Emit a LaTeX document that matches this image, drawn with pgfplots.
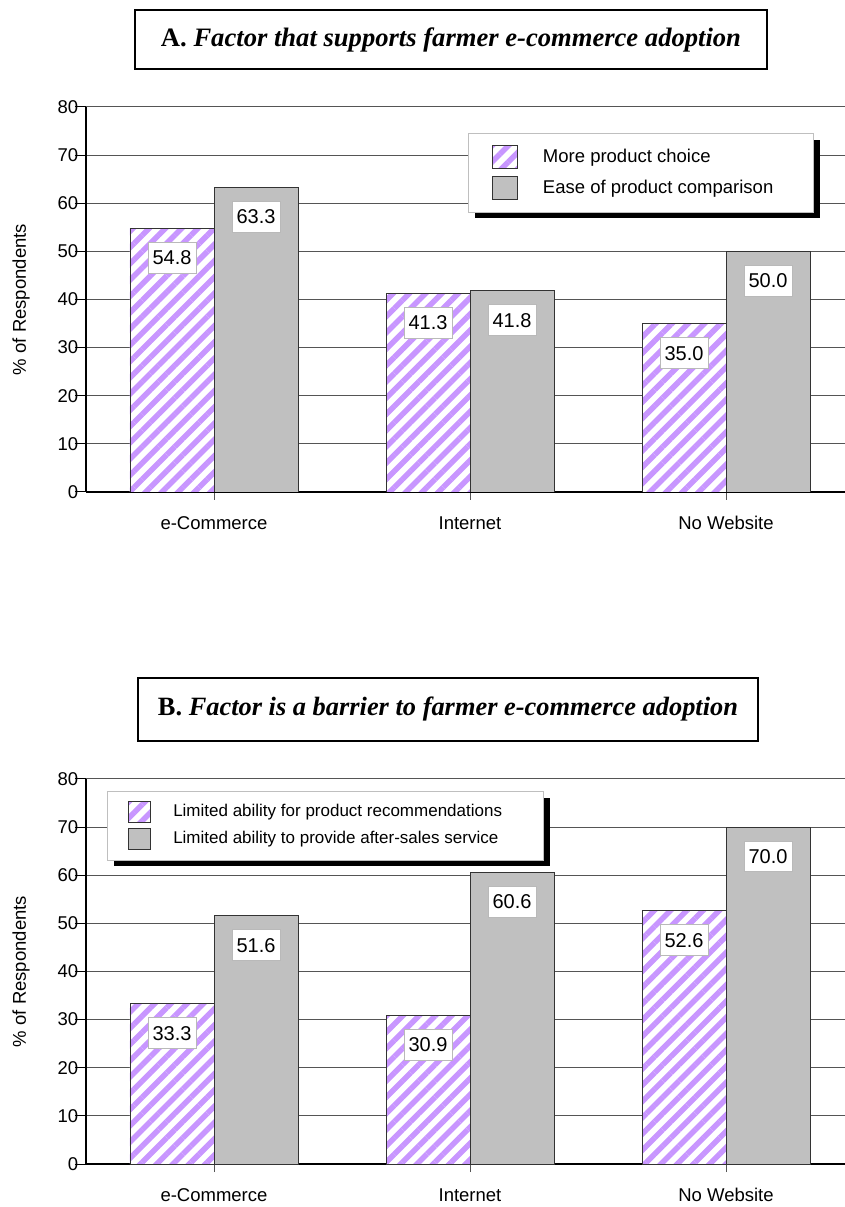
\documentclass[border=0pt]{standalone}
\usepackage{fontspec}
\setmainfont{Liberation Sans}
\newfontfamily\timesfont{Liberation Serif}
\usepackage{pgfplots}
\pgfplotsset{compat=1.18}
\usetikzlibrary{patterns.meta}

\definecolor{hatchc}{RGB}{200,150,255}
\definecolor{bargray}{RGB}{192,192,192}
\definecolor{gridc}{RGB}{85,85,85}

\pgfplotsset{
  farmbar/.style={
    width=768pt, height=385pt, scale only axis,
    ybar=0pt, bar width=84pt,
    xmin=-0.5, xmax=2.5, ymin=0, ymax=80,
    xtick={0,1,2}, xticklabels={e-Commerce,Internet,No Website},
    ytick={0,10,...,80},
    axis x line=bottom, axis y line=left,
    axis line style={black, line width=1.1pt, -},
    ymajorgrids, grid style={gridc, line width=1pt},
    xtick align=outside, ytick align=outside,
    xtick style={gridc, line width=1pt, /pgfplots/major tick length=8pt},
    ytick style={black, line width=1pt, /pgfplots/major tick length=11pt},
    tick label style={font=\fontsize{18.5}{22}\selectfont},
    xticklabel style={text height=14pt, text depth=4pt, yshift=-16pt},
    /pgf/number format/assume math mode=true,
    ylabel={\% of Respondents},
    every axis y label/.style={at={(axis description cs:-0.0846,0.5)}, rotate=90, anchor=center, font=\fontsize{18.5}{22}\selectfont},
    nodes near coords={\pgfmathprintnumber[fixed,fixed zerofill,precision=1]{\pgfplotspointmeta}},
    every node near coord/.append style={anchor=north, yshift=-13.5pt, fill=white, draw=gray!55, line width=0.8pt, font=\fontsize{20}{24}\selectfont, text height=14.4pt, text depth=0pt, inner xsep=4.5pt, inner ysep=8.2pt, text=black},
    legend image code/.code={\draw[#1] (0pt,-6pt) rectangle (\pgfkeysvalueof{/pgfplots/swatch width},17pt);},
  },
  /pgfplots/swatch width/.initial=25pt,
  hatched/.style={draw=black!80, line width=0.9pt, fill=white,
    postaction={pattern={Lines[angle=45,distance=11.5pt,line width=5.5pt]}, pattern color=hatchc}},
  greybar/.style={draw=black!80, line width=0.9pt, fill=bargray},
}

\begin{document}
\begin{tikzpicture}
\path[use as bounding box] (0,0) rectangle (844pt,1207pt);

% Panel A: supporting factors
\node[draw, line width=1.2pt, minimum width=632pt, minimum height=59pt,
      font=\timesfont\fontsize{26.6}{30}\selectfont] at (451pt,1167.5pt)
  {\textbf{A.} \textbf{\textit{Factor that supports farmer e-commerce adoption}}};

\begin{axis}[farmbar, at={(86pt,715pt)}, anchor=south west,
  legend style={at={(0.497,0.9325)}, anchor=north west, draw=gray!50, line width=0.8pt, fill=white,
    font=\fontsize{18.5}{22}\selectfont, inner xsep=24pt, inner ysep=12pt, row sep=7pt, column sep=25pt,
    nodes={inner sep=0pt}, cells={anchor=base west}},
]
\addplot[hatched] coordinates {(0,54.8) (1,41.3) (2,35.0)};
\addplot[greybar] coordinates {(0,63.3) (1,41.8) (2,50.0)};
% drop shadow of the legend frame
\fill[black] ([shift={(7pt,-7pt)}]rel axis cs:0.497,0.9325) rectangle ++(345pt,-78pt);
\legend{More product choice\hspace*{16pt}, Ease of product comparison\hspace*{16pt}}
\end{axis}

% Panel B: barriers
\node[draw, line width=1.2pt, minimum width=620pt, minimum height=63pt,
      font=\timesfont\fontsize{26.4}{30}\selectfont] at (448pt,497.5pt)
  {\textbf{B.} \textbf{\textit{Factor is a barrier to farmer e-commerce adoption}}};

\begin{axis}[farmbar, at={(86pt,43pt)}, anchor=south west, swatch width=22pt,
  legend image code/.code={\draw[#1] (0pt,-6pt) rectangle (22pt,15pt);},
  legend style={at={(0.0273,0.969)}, anchor=north west, draw=gray!50, line width=0.8pt, fill=white,
    font=\fontsize{17}{20}\selectfont, inner xsep=21pt, inner ysep=10pt, row sep=5pt, column sep=22pt,
    nodes={inner sep=0pt}, cells={anchor=base west}},
]
\addplot[hatched] coordinates {(0,33.3) (1,30.9) (2,52.6)};
\addplot[greybar] coordinates {(0,51.6) (1,60.6) (2,70.0)};
% drop shadow of the legend frame
\fill[black] ([shift={(7pt,-7pt)}]rel axis cs:0.0273,0.969) rectangle ++(436pt,-68pt);
\legend{Limited ability for product recommendations\hspace*{20pt}, Limited ability to provide after-sales service\hspace*{20pt}}
\end{axis}
\end{tikzpicture}
\end{document}
